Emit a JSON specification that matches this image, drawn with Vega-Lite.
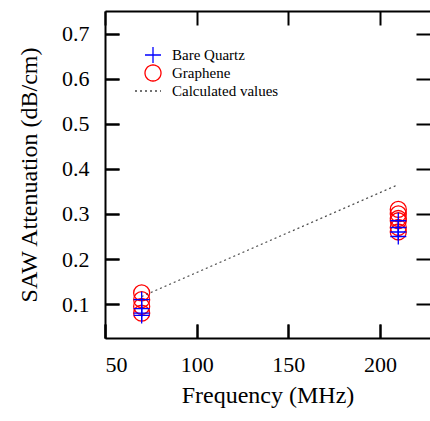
{
  "$schema": "https://vega.github.io/schema/vega-lite/v6.json",
  "autosize": "none",
  "width": 325,
  "height": 327,
  "padding": {"left": 105, "top": 11, "right": 0, "bottom": 83},
  "background": "white",
  "config": {
    "view": {"stroke": null},
    "font": "Liberation Serif",
    "axis": {
      "domainColor": "black", "domainWidth": 2,
      "tickColor": "black", "tickWidth": 2, "tickSize": -14,
      "labelFont": "Liberation Serif", "labelFontSize": 22, "labelColor": "black",
      "titleFont": "Liberation Serif", "titleFontSize": 24, "titleFontWeight": "normal", "titleColor": "black",
      "grid": false, "labelPadding": 30
    },
    "legend": {
      "labelFont": "Liberation Serif", "labelFontSize": 15, "labelColor": "black",
      "symbolSize": 256, "symbolStrokeWidth": 1.3, "rowPadding": 0, "clipHeight": 18, "labelOffset": 10, "padding": 0,
      "symbolOffset": 10
    }
  },
  "datasets": {
    "meas": [
      {"series": "Graphene", "freq": 70, "att": 0.125},
      {"series": "Graphene", "freq": 70, "att": 0.11},
      {"series": "Graphene", "freq": 70, "att": 0.095},
      {"series": "Graphene", "freq": 70, "att": 0.08},
      {"series": "Graphene", "freq": 210, "att": 0.31},
      {"series": "Graphene", "freq": 210, "att": 0.30},
      {"series": "Graphene", "freq": 210, "att": 0.29},
      {"series": "Graphene", "freq": 210, "att": 0.285},
      {"series": "Graphene", "freq": 210, "att": 0.27},
      {"series": "Graphene", "freq": 210, "att": 0.26},
      {"series": "Bare Quartz", "freq": 70, "att": 0.11},
      {"series": "Bare Quartz", "freq": 70, "att": 0.09},
      {"series": "Bare Quartz", "freq": 70, "att": 0.08},
      {"series": "Bare Quartz", "freq": 70, "att": 0.075},
      {"series": "Bare Quartz", "freq": 210, "att": 0.285},
      {"series": "Bare Quartz", "freq": 210, "att": 0.27},
      {"series": "Bare Quartz", "freq": 210, "att": 0.26},
      {"series": "Bare Quartz", "freq": 210, "att": 0.25}
    ],
    "calc": [
      {"series": "Calculated values", "freq": 70, "att": 0.117},
      {"series": "Calculated values", "freq": 210, "att": 0.365}
    ]
  },
  "layer": [
    {
      "data": {"name": "meas"},
      "mark": {"type": "point", "filled": false, "strokeWidth": 1.3, "size": 256, "opacity": 1},
      "encoding": {
        "x": {"field": "freq", "type": "quantitative",
          "scale": {"domain": [50, 227.3], "nice": false, "zero": false},
          "axis": {"orient": "bottom", "values": [50, 100, 150, 200], "title": "Frequency (MHz)", "titlePadding": 8}},
        "y": {"field": "att", "type": "quantitative",
          "scale": {"domain": [0.025, 0.75], "nice": false, "zero": false},
          "axis": {"orient": "left", "values": [0.1, 0.2, 0.3, 0.4, 0.5, 0.6, 0.7], "format": ".1f", "title": "SAW Attenuation (dB/cm)", "titlePadding": 20}},
        "color": {"field": "series", "type": "nominal",
          "scale": {"domain": ["Bare Quartz", "Graphene", "Calculated values"], "range": ["#0000ff", "#ff0000", "#444444"]},
          "legend": {"title": null, "orient": "none", "legendX": 29, "legendY": 35}},
        "shape": {"field": "series", "type": "nominal",
          "scale": {"domain": ["Bare Quartz", "Graphene", "Calculated values"], "range": ["M-1,0H1M0,-1V1", "circle", "M-2.25,0H1"]},
          "legend": {"title": null, "orient": "none", "legendX": 29, "legendY": 35}}
      }
    },
    {
      "data": {"name": "calc"},
      "mark": {"type": "line", "strokeWidth": 1.2},
      "encoding": {
        "x": {"field": "freq", "type": "quantitative",
          "axis": {"orient": "top", "values": [50, 100, 150, 200], "labels": false, "title": null}},
        "y": {"field": "att", "type": "quantitative",
          "axis": {"orient": "right", "values": [0.1, 0.2, 0.3, 0.4, 0.5, 0.6, 0.7], "labels": false, "domain": false, "title": null}},
        "color": {"field": "series", "type": "nominal", "legend": {"title": null, "orient": "none", "legendX": 29, "legendY": 35}},
        "strokeDash": {"field": "series", "type": "nominal",
          "scale": {"domain": ["Bare Quartz", "Graphene", "Calculated values"], "range": [[1, 0], [1, 0], [2, 3]]},
          "legend": {"title": null, "orient": "none", "legendX": 29, "legendY": 35}}
      }
    },
    {
      "data": {"name": "calc"},
      "mark": {"type": "line", "strokeOpacity": 0},
      "encoding": {
        "x": {"field": "freq", "type": "quantitative",
          "axis": {"orient": "bottom", "values": [50, 100, 150, 200], "labels": false, "domain": false, "title": null}},
        "y": {"field": "att", "type": "quantitative",
          "axis": {"orient": "left", "values": [0.1, 0.2, 0.3, 0.4, 0.5, 0.6, 0.7], "labels": false, "domain": false, "title": null}}
      }
    }
  ],
  "resolve": {"axis": {"x": "independent", "y": "independent"}}
}
